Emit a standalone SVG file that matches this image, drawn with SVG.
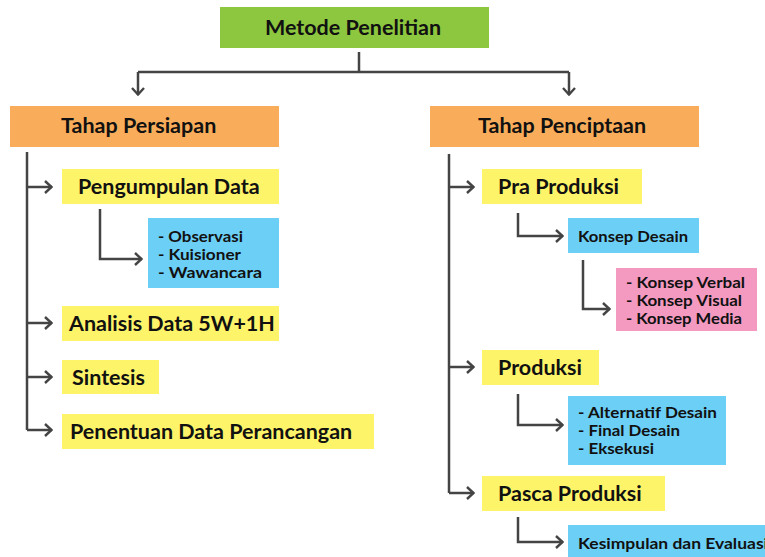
<svg xmlns="http://www.w3.org/2000/svg" width="765" height="557" viewBox="0 0 765 557">
<defs>
<style>
.t{font-family:"Lato","Noto Sans",sans-serif;font-weight:700;fill:#111;}
.big{font-size:21.5px;}
.sm{font-size:14.5px;}
.c{fill:none;stroke:#444;stroke-width:2.5;}
.green{fill:#8dc63f;}
.orange{fill:#f9ad5b;}
.yellow{fill:#fef46a;}
.blue{fill:#6ccff6;}
.pink{fill:#f49ac1;}
</style>
<marker id="ah" viewBox="0 0 10 14" refX="9" refY="7" markerWidth="10" markerHeight="14" markerUnits="userSpaceOnUse" orient="auto">
<path d="M2,1 L8.5,7 L2,13" fill="none" stroke="#444" stroke-width="2.4"/>
</marker>
</defs>
<rect width="765" height="557" fill="#fff"/>
<g id="connectors">
<path class="c" d="M359,52 V72 M138,72 H569"/>
<path class="c" d="M138,72 V95" marker-end="url(#ah)"/>
<path class="c" d="M569,72 V95" marker-end="url(#ah)"/>
<path class="c" d="M27,152 V430"/>
<path class="c" d="M27,187 H52" marker-end="url(#ah)"/>
<path class="c" d="M27,323 H52" marker-end="url(#ah)"/>
<path class="c" d="M27,377 H52" marker-end="url(#ah)"/>
<path class="c" d="M27,430 H52" marker-end="url(#ah)"/>
<path class="c" d="M100,209 V259 H142" marker-end="url(#ah)"/>
<path class="c" d="M449,154 V493"/>
<path class="c" d="M449,187 H474" marker-end="url(#ah)"/>
<path class="c" d="M449,367 H474" marker-end="url(#ah)"/>
<path class="c" d="M449,493 H474" marker-end="url(#ah)"/>
<path class="c" d="M518,213 V236 H563" marker-end="url(#ah)"/>
<path class="c" d="M583,260 V309 H610" marker-end="url(#ah)"/>
<path class="c" d="M518,394 V425 H563" marker-end="url(#ah)"/>
<path class="c" d="M518,517 V542 H563" marker-end="url(#ah)"/>
</g>
<g id="metode"><rect class="green" x="220" y="7" width="269" height="41"/><text class="t big" x="265" y="35">Metode Penelitian</text></g>
<g id="persiapan"><rect class="orange" x="10" y="106" width="269" height="41"/><text class="t big" x="61" y="133">Tahap Persiapan</text></g>
<g id="penciptaan"><rect class="orange" x="430" y="106" width="269" height="41"/><text class="t big" x="478" y="133">Tahap Penciptaan</text></g>
<g id="pengumpulan"><rect class="yellow" x="62" y="169" width="217" height="35"/><text class="t big" x="78" y="194">Pengumpulan Data</text></g>
<g id="metode-data"><rect class="blue" x="148" y="218" width="131" height="70"/><text class="t sm" x="158" y="242" textLength="85" lengthAdjust="spacingAndGlyphs">- Observasi</text><text class="t sm" x="158" y="260" textLength="83" lengthAdjust="spacingAndGlyphs">- Kuisioner</text><text class="t sm" x="158" y="278" textLength="104" lengthAdjust="spacingAndGlyphs">- Wawancara</text></g>
<g id="analisis"><rect class="yellow" x="62" y="306" width="217" height="35"/><text class="t big" x="69" y="331">Analisis Data 5W+1H</text></g>
<g id="sintesis"><rect class="yellow" x="62" y="360" width="97" height="34"/><text class="t big" x="72" y="385">Sintesis</text></g>
<g id="penentuan"><rect class="yellow" x="62" y="414" width="312" height="35"/><text class="t big" x="70" y="439">Penentuan Data Perancangan</text></g>
<g id="praproduksi"><rect class="yellow" x="482" y="169" width="160" height="35"/><text class="t big" x="498" y="194">Pra Produksi</text></g>
<g id="konsepdesain"><rect class="blue" x="568" y="218" width="131" height="35"/><text class="t sm" x="578" y="242" textLength="110" lengthAdjust="spacingAndGlyphs">Konsep Desain</text></g>
<g id="konsep"><rect class="pink" x="616" y="268" width="141" height="63"/><text class="t sm" x="626" y="288" textLength="119" lengthAdjust="spacingAndGlyphs">- Konsep Verbal</text><text class="t sm" x="626" y="306" textLength="116" lengthAdjust="spacingAndGlyphs">- Konsep Visual</text><text class="t sm" x="626" y="324" textLength="116" lengthAdjust="spacingAndGlyphs">- Konsep Media</text></g>
<g id="produksi"><rect class="yellow" x="482" y="350" width="117" height="35"/><text class="t big" x="498" y="375">Produksi</text></g>
<g id="produksi-list"><rect class="blue" x="568" y="396" width="158" height="69"/><text class="t sm" x="578" y="418" textLength="139" lengthAdjust="spacingAndGlyphs">- Alternatif Desain</text><text class="t sm" x="578" y="436" textLength="102" lengthAdjust="spacingAndGlyphs">- Final Desain</text><text class="t sm" x="578" y="454" textLength="76" lengthAdjust="spacingAndGlyphs">- Eksekusi</text></g>
<g id="pasca"><rect class="yellow" x="482" y="476" width="183" height="35"/><text class="t big" x="498" y="501">Pasca Produksi</text></g>
<g id="kesimpulan"><rect class="blue" x="568" y="525" width="200" height="32"/><text class="t sm" x="578" y="549" textLength="190" lengthAdjust="spacingAndGlyphs">Kesimpulan dan Evaluasi</text></g>
</svg>
